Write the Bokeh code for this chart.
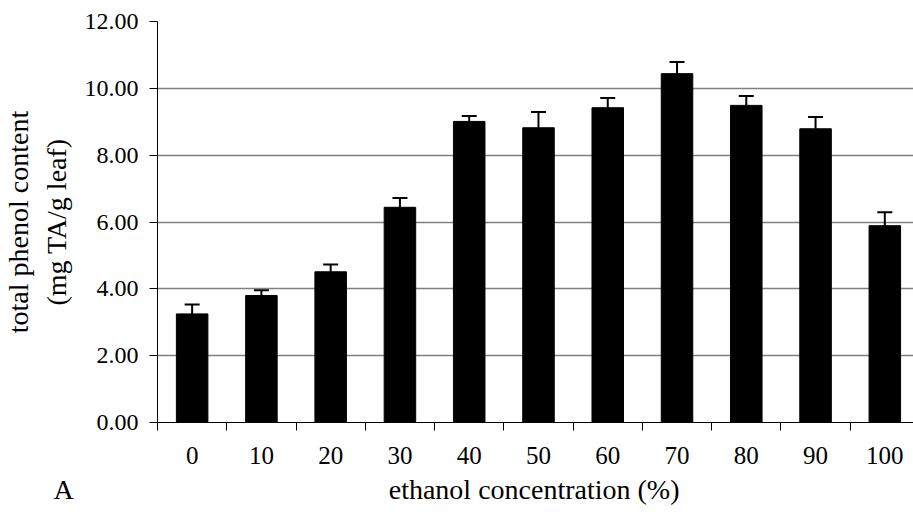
from bokeh.plotting import figure
from bokeh.models import Range1d, FixedTicker, NumeralTickFormatter, Whisker, TeeHead, ColumnDataSource, Title
from bokeh.embed import file_html
from bokeh.resources import INLINE

categories = ["0", "10", "20", "30", "40", "50", "60", "70", "80", "90", "100"]
values = [3.25, 3.80, 4.51, 6.44, 9.01, 8.82, 9.42, 10.44, 9.49, 8.79, 5.89]
errors = [0.28, 0.16, 0.22, 0.28, 0.16, 0.47, 0.29, 0.35, 0.28, 0.35, 0.40]
y_ticks = [0, 2, 4, 6, 8, 10, 12]
x_title = "ethanol concentration (%)"
y_title = "total phenol content\n(mg TA/g leaf)"
panel_tag = "A"

xs = list(range(len(categories)))
upper = [v + e for v, e in zip(values, errors)]
src = ColumnDataSource(dict(x=xs, top=values, upper=upper))

FONT = "Liberation Serif"

p = figure(width=913, height=519, x_range=Range1d(-0.5, 10.414), y_range=Range1d(0, 12),
           output_backend="svg", toolbar_location=None,
           min_border_left=157, min_border_right=0, min_border_top=21, min_border_bottom=97)
p.outline_line_color = None
p.background_fill_color = "white"
p.border_fill_color = "white"

p.vbar(x="x", top="top", width=0.455, source=src, fill_color="black", line_color="black")
w = Whisker(base="x", lower="top", upper="upper", source=src, line_color="black", line_width=2,
            lower_head=None, upper_head=TeeHead(size=15, line_color="black", line_width=2))
p.add_layout(w)

# x axis
p.xaxis.ticker = FixedTicker(ticks=xs, minor_ticks=[i - 0.5 for i in xs])
p.xaxis.major_label_overrides = {i: c for i, c in zip(xs, categories)}
p.xaxis.major_tick_out = 0
p.xaxis.major_tick_in = 0
p.xaxis.minor_tick_out = 8
p.xaxis.minor_tick_in = 0
p.xaxis.minor_tick_line_color = "black"
p.xaxis.axis_line_color = "black"
p.xaxis.major_label_text_font = FONT
p.xaxis.major_label_text_font_size = "25px"
p.xaxis.major_label_text_color = "black"
p.xaxis.major_label_standoff = 16

# y axis
p.yaxis.ticker = FixedTicker(ticks=y_ticks)
p.yaxis.formatter = NumeralTickFormatter(format="0.00")
p.yaxis.major_tick_out = 8
p.yaxis.major_tick_in = 0
p.yaxis.minor_tick_line_color = None
p.yaxis.axis_line_color = "black"
p.yaxis.major_tick_line_color = "black"
p.yaxis.major_label_text_font = FONT
p.yaxis.major_label_text_font_size = "24px"
p.yaxis.major_label_text_color = "black"
p.yaxis.major_label_standoff = 11
p.yaxis.axis_label = y_title
p.yaxis.axis_label_text_font = FONT
p.yaxis.axis_label_text_font_size = "28px"
p.yaxis.axis_label_text_font_style = "normal"
p.yaxis.axis_label_text_color = "black"
p.yaxis.axis_label_standoff = 10

p.xgrid.grid_line_color = None
p.ygrid.grid_line_color = "#808080"
p.ygrid.grid_line_width = 1.5

# panel tag and x-axis title share one line below the axis
bottom_text = panel_tag + "\u00a0" * 45 + x_title
p.add_layout(Title(text=bottom_text, align="left", offset=-104, standoff=10,
                   text_font=FONT, text_font_size="28px", text_font_style="normal",
                   text_color="black"), "below")

open("out.html", "w").write(file_html(p, INLINE))
